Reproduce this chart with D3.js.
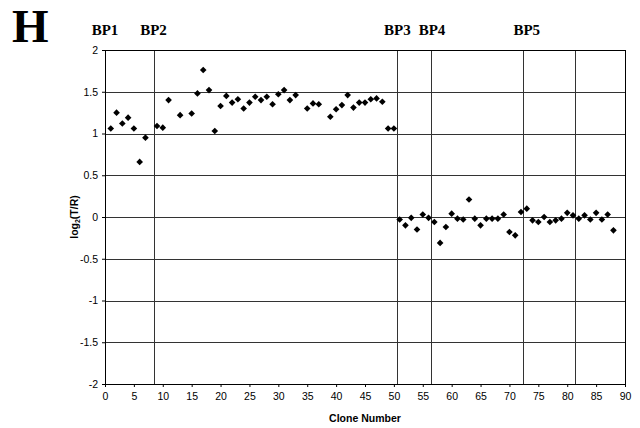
<!DOCTYPE html>
<html lang="en">
  <head>
    <meta charset="utf-8">
    <title>Clone log2 ratio</title>
    <script src="https://d3js.org/d3.v7.min.js"></script>
    <style>
    body { margin: 0; background: #fff; }
    .axis text { font-family: Arial, "Liberation Sans", sans-serif; font-size: 10.5px; fill: #000; }
    .axis path, .axis line { stroke: #000; }
    .grid line { stroke: #333; stroke-width: 1; }
    .bp-label { font-family: "Times New Roman", "Liberation Serif", serif; font-weight: bold; font-size: 15px; }
    .title { font-family: Arial, "Liberation Sans", sans-serif; font-weight: bold; font-size: 10.5px; }
    </style>
  </head>
  <body>
    <svg width="640" height="428" id="svg"></svg>
    <script>

    // clone number -> log2(T/R)
    var clones = [1, 2, 3, 4, 5, 6, 7, 9, 10, 11, 13, 15, 16, 17, 18, 19, 20, 21, 22, 23,
                  24, 25, 26, 27, 28, 29, 30, 31, 32, 33, 35, 36, 37, 39, 40, 41, 42, 43, 44, 45,
                  46, 47, 48, 49, 50, 51, 52, 53, 54, 55, 56, 57, 58, 59, 60, 61, 62, 63, 64, 65,
                  66, 67, 68, 69, 70, 71, 72, 73, 74, 75, 76, 77, 78, 79, 80, 81, 82, 83, 84, 85,
                  86, 87, 88];
    var ratios = [1.06, 1.25, 1.12, 1.19, 1.06, 0.66, 0.95, 1.09, 1.07, 1.40, 1.22, 1.24, 1.48, 1.76, 1.52, 1.03, 1.33, 1.45, 1.37, 1.41,
                  1.30, 1.37, 1.44, 1.40, 1.44, 1.35, 1.47, 1.52, 1.40, 1.46, 1.30, 1.36, 1.35, 1.20, 1.29, 1.34, 1.46, 1.31, 1.37, 1.37,
                  1.41, 1.42, 1.38, 1.06, 1.06, -0.03, -0.10, -0.01, -0.15, 0.03, -0.01, -0.06, -0.31, -0.12, 0.04, -0.02, -0.03, 0.21, -0.02, -0.10,
                  -0.02, -0.02, -0.02, 0.03, -0.18, -0.22, 0.06, 0.10, -0.04, -0.06, 0.00, -0.06, -0.04, -0.02, 0.05, 0.02, -0.02, 0.02, -0.03, 0.05,
                  -0.03, 0.03, -0.16];

    // breakpoint lines and their labels
    var breakLines = [8.4, 50.5, 56.4, 72.4, 81.4];
    var bpNames = ["BP1", "BP2", "BP3", "BP4", "BP5"];
    var bpPos = [0, 8.4, 50.6, 56.6, 73.0];

    var xTicks = d3.range(0, 91, 5);
    var yTicks = [-2, -1.5, -1, -0.5, 0, 0.5, 1, 1.5, 2];

    var svg = d3.select("svg"),
        margin = {top: 50, right: 15, bottom: 44, left: 105},
        width = +svg.attr("width") - margin.left - margin.right,
        height = +svg.attr("height") - margin.top - margin.bottom;

    var x = d3.scaleLinear().domain([0, 90]).range([0, width]),
        y = d3.scaleLinear().domain([-2, 2]).range([height, 0]);

    var g = svg.append("g")
        .attr("transform", "translate(" + margin.left + "," + margin.top + ")");

    // horizontal grid
    g.append("g").attr("class", "grid")
      .selectAll("line")
      .data(yTicks.filter(function(d) { return d > -2 && d < 2; }))
      .enter().append("line")
        .attr("x1", 0).attr("x2", width)
        .attr("y1", function(d) { return Math.round(y(d)) + 0.5; })
        .attr("y2", function(d) { return Math.round(y(d)) + 0.5; });

    // breakpoint lines
    g.append("g").attr("class", "grid")
      .selectAll("line")
      .data(breakLines)
      .enter().append("line")
        .attr("x1", function(d) { return Math.round(x(d)) + 0.5; })
        .attr("x2", function(d) { return Math.round(x(d)) + 0.5; })
        .attr("y1", 0).attr("y2", height);

    // frame
    g.append("rect")
        .attr("x", 0.5).attr("y", 0.5)
        .attr("width", width).attr("height", height)
        .attr("fill", "none").attr("stroke", "#000");

    g.append("g")
        .attr("class", "axis")
        .attr("transform", "translate(0," + height + ")")
        .call(d3.axisBottom(x).tickValues(xTicks).tickSize(3).tickPadding(6).tickFormat(d3.format("d")))
        .call(function(s) { s.select(".domain").remove(); });

    g.append("g")
        .attr("class", "axis")
        .call(d3.axisLeft(y).tickValues(yTicks).tickSize(3).tickPadding(4).tickFormat(function(d) { return String(d); }))
        .call(function(s) { s.select(".domain").remove(); });

    // points
    var diamond = d3.symbol().type(d3.symbolSquare).size(22);
    g.selectAll(".pt")
      .data(clones)
      .enter().append("path")
        .attr("class", "pt")
        .attr("d", diamond)
        .attr("fill", "#000")
        .attr("transform", function(d, i) {
          return "translate(" + x(d) + "," + y(ratios[i]) + ") rotate(45)";
        });

    // breakpoint labels
    g.selectAll(".bp-label")
      .data(bpNames)
      .enter().append("text")
        .attr("class", "bp-label")
        .attr("text-anchor", "middle")
        .attr("x", function(d, i) { return x(bpPos[i]); })
        .attr("y", -15)
        .text(function(d) { return d; });

    // axis titles
    svg.append("text")
        .attr("class", "title")
        .attr("text-anchor", "middle")
        .attr("x", margin.left + x(45))
        .attr("y", 422)
        .text("Clone Number");

    var yt = svg.append("text")
        .attr("class", "title")
        .attr("text-anchor", "middle")
        .attr("transform", "translate(78," + (margin.top + y(0)) + ") rotate(-90)");
    yt.append("tspan").text("log");
    yt.append("tspan").attr("font-size", "7px").attr("dy", 2).text("2");
    yt.append("tspan").attr("dy", -2).text("(T/R)");

    // panel letter
    svg.append("text")
        .attr("x", 12)
        .attr("y", 42)
        .attr("font-family", "'Times New Roman', 'Liberation Serif', serif")
        .attr("font-weight", "bold")
        .attr("font-size", "47px")
        .text("H");

    </script>
  </body>
</html>
